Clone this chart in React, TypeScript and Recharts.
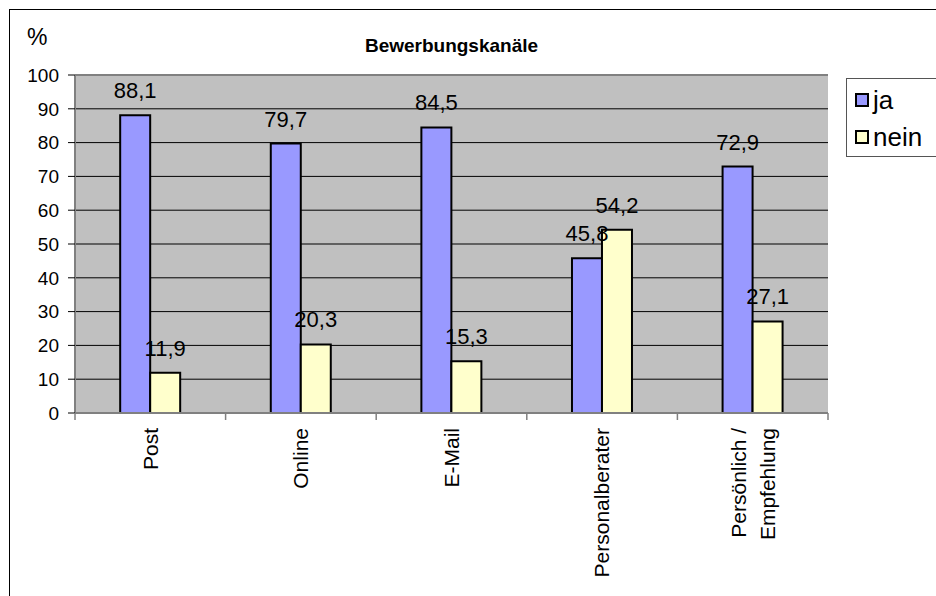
import React from 'react';
import {
  BarChart,
  Bar,
  XAxis,
  YAxis,
  CartesianGrid,
  LabelList,
  Legend,
  ReferenceLine,
} from 'recharts';

const CATEGORIES = ['Post', 'Online', 'E-Mail', 'Personalberater', 'Persönlich / Empfehlung'];
const JA = [88.1, 79.7, 84.5, 45.8, 72.9];
const NEIN = [11.9, 20.3, 15.3, 54.2, 27.1];
const Y_TICKS = [0, 10, 20, 30, 40, 50, 60, 70, 80, 90, 100];

const SERIES = [
  { key: 'ja', name: 'ja', color: '#9999FF' },
  { key: 'nein', name: 'nein', color: '#FFFFCC' },
];

const data = CATEGORIES.map((name, i) => ({ name, ja: JA[i], nein: NEIN[i] }));

const FONT = '"Liberation Sans", Arial, sans-serif';
const W = 936;
const H = 596;
const MARGIN = { top: 75, right: 108, bottom: 0, left: 15 };
const Y_AXIS_W = 60;
const PLOT_W = W - MARGIN.left - Y_AXIS_W - MARGIN.right;
const BAND = PLOT_W / CATEGORIES.length;

const fmt = (v: any) => String(v).replace('.', ',');

function CategoryTick(props: any) {
  const { x, y, payload, index } = props;
  const label: string = payload.value;
  const lines = label.includes(' / ') ? [label.split(' / ')[0] + ' /', label.split(' / ')[1]] : [label];
  const top = y + 15;
  const spread = 14.5;
  return (
    <g>
      <line x1={x - BAND / 2} x2={x - BAND / 2} y1={y} y2={y + 7} stroke="#808080" strokeWidth={1.5} />
      {index === CATEGORIES.length - 1 && (
        <line x1={x + BAND / 2} x2={x + BAND / 2} y1={y} y2={y + 7} stroke="#808080" strokeWidth={1.5} />
      )}
      {lines.map((ln, i) => {
        const cx = x + (lines.length === 1 ? 0 : (i === 0 ? -spread : spread));
        return (
          <text
            key={i}
            x={cx}
            y={top}
            dy="0.35em"
            textAnchor="end"
            transform={`rotate(-90, ${cx}, ${top})`}
            fontSize={21}
            fontFamily={FONT}
            fill="#000"
          >
            {ln}
          </text>
        );
      })}
    </g>
  );
}

function LegendBox() {
  return (
    <div
      style={{
        border: '1px solid #555',
        background: '#fff',
        width: 110,
        height: 79,
        boxSizing: 'border-box',
        paddingTop: 2,
        paddingLeft: 8,
        fontFamily: FONT,
        fontSize: 26,
        color: '#000',
      }}
    >
      {SERIES.map((s) => (
        <div key={s.key} style={{ display: 'flex', alignItems: 'center', height: 37, lineHeight: '26px' }}>
          <span
            style={{
              display: 'inline-block',
              width: 14,
              height: 14,
              boxSizing: 'border-box',
              border: '2px solid #000',
              background: s.color,
              marginRight: 4,
            }}
          />
          <span>{s.name}</span>
        </div>
      ))}
    </div>
  );
}

export default function App() {
  return (
    <div style={{ position: 'absolute', left: 0, top: 0, width: W, height: H, background: '#fff', overflow: 'hidden' }}>
      <div
        style={{
          position: 'absolute',
          left: 9,
          top: 9,
          width: W,
          height: H,
          borderTop: '1px solid #000',
          borderLeft: '1px solid #000',
        }}
      />
      <div style={{ position: 'absolute', left: 27, top: 26, fontFamily: FONT, fontSize: 23, lineHeight: '23px' }}>%</div>
      <div
        style={{
          position: 'absolute',
          left: 75,
          width: PLOT_W,
          top: 36,
          textAlign: 'center',
          fontFamily: FONT,
          fontSize: 19,
          fontWeight: 'bold',
          lineHeight: '19px',
        }}
      >
        Bewerbungskanäle
      </div>
      <div style={{ position: 'absolute', left: 0, top: 0 }}>
        <BarChart width={W} height={H} data={data} margin={MARGIN} barCategoryGap="30%" barGap={0}>
          <CartesianGrid fill="#C0C0C0" stroke="#000" vertical={false} />
          <XAxis
            dataKey="name"
            height={H - 413}
            interval={0}
            tickLine={false}
            tickSize={0}
            tickMargin={0}
            axisLine={{ stroke: '#808080', strokeWidth: 2 }}
            tick={<CategoryTick />}
          />
          <YAxis
            width={Y_AXIS_W}
            domain={[0, 100]}
            ticks={Y_TICKS}
            interval={0}
            tickSize={7}
            tickMargin={9}
            tickLine={{ stroke: '#000' }}
            axisLine={{ stroke: '#808080', strokeWidth: 2 }}
            tick={{ fill: '#000', fontSize: 19, fontFamily: FONT }}
          />
          <YAxis
            yAxisId="right"
            orientation="right"
            width={0}
            domain={[0, 100]}
            tick={false}
            tickLine={false}
            axisLine={{ stroke: '#808080', strokeWidth: 2 }}
          />
          <ReferenceLine y={100} stroke="#808080" strokeWidth={2} />
          <Legend
            layout="horizontal"
            verticalAlign="middle"
            align="center"
            content={() => <LegendBox />}
            wrapperStyle={{ left: 846, top: 78, width: 110, height: 79 }}
          />
          {SERIES.map((s) => (
            <Bar key={s.key} dataKey={s.key} name={s.name} fill={s.color} stroke="#000" strokeWidth={2} isAnimationActive={false}>
              <LabelList
                dataKey={s.key}
                position="top"
                offset={17}
                formatter={fmt}
                style={{ fill: '#000', fontSize: 22, fontFamily: FONT }}
              />
            </Bar>
          ))}
        </BarChart>
      </div>
    </div>
  );
}
